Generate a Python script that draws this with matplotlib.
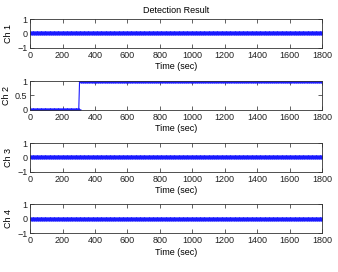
import matplotlib
matplotlib.use("Agg")
import matplotlib.pyplot as plt
import numpy as np

plt.rcParams['font.family'] = ['Liberation Sans', 'DejaVu Sans']

time_sec = list(range(0, 1801, 5))
ch1 = [0] * 361
ch2 = [0] * 61 + [1] * 300
ch3 = [0] * 361
ch4 = [0] * 361
channels = [ch1, ch2, ch3, ch4]
ylabels = ["Ch 1", "Ch 2", "Ch 3", "Ch 4"]
xticks = [0, 200, 400, 600, 800, 1000, 1200, 1400, 1600, 1800]

fig = plt.figure(figsize=(3.38, 2.72), dpi=100)
fig.patch.set_facecolor('white')
bottoms = [0.824, 0.596, 0.368, 0.143]
h = 0.106
for i, (vals, yl, b) in enumerate(zip(channels, ylabels, bottoms)):
    ax = fig.add_axes([0.089, b, 0.864, h])
    ax.plot(time_sec, vals, color='#1a1aff', lw=0.8, marker='*', ms=3.0, mew=0.5)
    ax.set_xlim(0, 1800)
    if i == 1:
        ax.set_ylim(0, 1)
        ax.set_yticks([0, 0.5, 1])
        ax.set_yticklabels(['0', '0.5', '1'])
    else:
        ax.set_ylim(-1, 1)
        ax.set_yticks([-1, 0, 1])
    ax.set_xticks(xticks)
    ax.tick_params(direction='in', length=3, width=0.5, labelsize=6.5, pad=2,
                   top=True, right=True, colors='#222222')
    for s in ax.spines.values():
        s.set_linewidth(0.6)
        s.set_color('#333333')
    ax.set_xlabel('Time (sec)', fontsize=6.5, labelpad=2)
    ax.set_ylabel(yl, fontsize=6.5, labelpad=3)
    if i == 0:
        ax.set_title('Detection Result', fontsize=6.5, pad=4)

fig.savefig('out.png', dpi=100)
